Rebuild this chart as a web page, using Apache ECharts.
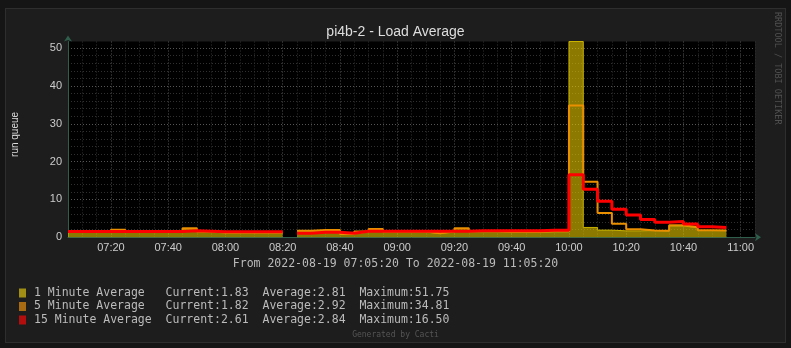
<!DOCTYPE html>
<html>
<head>
<meta charset="utf-8">
<script src="https://cdn.jsdelivr.net/npm/echarts@6/dist/echarts.min.js"></script>
<style>
body { margin: 0; background: #151515; }
#frame { position: absolute; left: 5px; top: 8px; width: 779px; height: 333px; background: #1d1d1d; border: 1px solid #2e2e2e; }
#main { position: absolute; left: 0; top: 0; width: 791px; height: 348px; }
</style>
</head>
<body>
<div id="frame"></div>
<div id="main"></div>
<script>
// 5 minute slots, start time of each slot
var times = ['07:05','07:10','07:15','07:20','07:25','07:30','07:35','07:40','07:45','07:50',
             '07:55','08:00','08:05','08:10','08:15','08:20','08:25','08:30','08:35','08:40',
             '08:45','08:50','08:55','09:00','09:05','09:10','09:15','09:20','09:25','09:30',
             '09:35','09:40','09:45','09:50','09:55','10:00','10:05','10:10','10:15','10:20',
             '10:25','10:30','10:35','10:40','10:45','10:50'];

var load1 = [1.3, 1.3, 1.3, 1.9, 1.3, 1.3, 1.3, 1.3, 2.2, 1.4,
             1.2, 1.2, 1.2, 1.2, 1.2, null, 1.5, 1.7, 1.7, 0.9,
             1.4, 2.0, 1.4, 1.4, 1.4, 1.0, 1.5, 2.3, 1.5, 1.5,
             1.4, 1.4, 1.4, 1.5, 1.5, 51.75, 2.6, 1.9, 1.7, 1.7,
             1.8, 1.7, 3.0, 2.5, 1.8, 1.83];
var load5 = [1.4, 1.4, 1.4, 2.0, 1.4, 1.4, 1.4, 1.4, 2.4, 1.5,
             1.3, 1.3, 1.3, 1.3, 1.3, null, 1.7, 1.9, 1.9, 0.9,
             1.5, 2.2, 1.5, 1.5, 1.5, 1.05, 1.5, 2.4, 1.6, 1.6,
             1.45, 1.45, 1.45, 1.6, 1.6, 34.81, 14.7, 6.4, 3.6, 2.1,
             1.8, 1.7, 3.2, 2.7, 1.85, 1.82];
var load15 = [1.55, 1.55, 1.55, 1.55, 1.55, 1.55, 1.55, 1.55, 1.75, 1.6,
              1.45, 1.45, 1.45, 1.45, 1.45, null, 1.1, 1.35, 1.35, 1.1,
              1.6, 1.6, 1.6, 1.6, 1.6, 1.6, 1.6, 1.6, 1.75, 1.75,
              1.75, 1.75, 1.75, 1.85, 1.85, 16.5, 12.7, 9.5, 7.4, 5.9,
              4.7, 4.0, 4.2, 3.5, 2.8, 2.61];

var seriesNames = ['1 Minute Average', '5 Minute Average', '15 Minute Average'];
var currentVals = ['1.83', '1.82', '2.61'];
var averageVals = ['2.81', '2.92', '2.84'];
var maximumVals = ['51.75', '34.81', '16.50'];

var minorColor = '#303030';
var majorColor = '#555555';
var axisColor = '#2f5e4c';

function toMin(t) {
    var p = t.split(':');
    return parseInt(p[0], 10) * 60 + parseInt(p[1], 10);
}

function fmtMin(v) {
    var h = Math.floor(v / 60), m = v % 60;
    return (h < 10 ? '0' : '') + h + ':' + (m < 10 ? '0' : '') + m;
}

// each slot becomes a flat segment from its start to its end
function slotData(values) {
    var out = [];
    for (var i = 0; i < times.length; i++) {
        var t0 = toMin(times[i]);
        if (values[i] == null) {
            out.push([t0, null]);
        } else {
            out.push([t0, values[i]]);
            out.push([t0 + 5, values[i]]);
        }
    }
    return out;
}

function pad(s, n) {
    while (s.length < n) s += ' ';
    return s;
}

var myChart = echarts.init(document.getElementById('main'));

var option = {
    animation: false,
    title: {
        text: 'pi4b-2 - Load Average',
        left: 'center',
        top: 20,
        textStyle: { color: '#dddddd', fontSize: 14, fontWeight: 'normal', fontFamily: 'Liberation Sans' }
    },
    grid: {
        left: 68, right: 36, top: 41.5, bottom: 110.7,
        containLabel: false,
        outerBoundsMode: 'none',
        show: true, backgroundColor: '#000000', borderWidth: 0
    },
    legend: {
        orient: 'vertical',
        left: 14,
        top: 281.5,
        icon: 'rect',
        itemWidth: 7,
        itemHeight: 9,
        itemGap: 0.5,
        selectedMode: false,
        lineStyle: { opacity: 0 },
        textStyle: { color: '#bbbbbb', fontSize: 11.5, fontFamily: 'DejaVu Sans Mono', lineHeight: 13, padding: [0, 0, 0, 3] },
        formatter: function (name) {
            var i = seriesNames.indexOf(name);
            return pad(name, 19) + pad('Current:' + currentVals[i], 14) +
                pad('Average:' + averageVals[i], 14) + 'Maximum:' + maximumVals[i];
        },
        data: [
            { name: seriesNames[0], itemStyle: { color: '#a08f14' } },
            { name: seriesNames[1], itemStyle: { color: '#a96b12' } },
            { name: seriesNames[2], itemStyle: { color: '#b30e0e' } }
        ]
    },
    xAxis: {
        type: 'value',
        min: 425,
        max: 665,
        interval: 5,
        axisLine: {
            show: true,
            symbol: ['none', 'arrow'],
            symbolSize: [6, 6],
            symbolOffset: [0, 6],
            lineStyle: { color: axisColor }
        },
        axisTick: { show: false },
        axisLabel: {
            color: '#cccccc', fontSize: 11, fontFamily: 'Liberation Sans', margin: 5,
            formatter: function (v) { return v % 20 === 0 ? fmtMin(v) : ''; }
        },
        splitLine: {
            show: true,
            showMinLine: true,
            showMaxLine: true,
            lineStyle: { type: [1, 2], width: 1, color: [minorColor, minorColor, minorColor, majorColor] }
        }
    },
    yAxis: {
        type: 'value',
        min: 0,
        max: 51.75,
        interval: 2,
        name: 'run queue',
        nameLocation: 'middle',
        nameGap: 48,
        nameRotate: 90,
        nameTextStyle: { color: '#dddddd', fontSize: 10, fontFamily: 'Liberation Sans', padding: [0, 0, 0, 10] },
        axisLine: {
            show: true,
            symbol: ['none', 'arrow'],
            symbolSize: [6, 6],
            symbolOffset: [0, 6],
            lineStyle: { color: axisColor }
        },
        axisTick: { show: false },
        axisLabel: {
            color: '#cccccc', fontSize: 11, fontFamily: 'Liberation Sans', margin: 6,
            formatter: function (v) { return v % 10 === 0 ? String(v) : ''; }
        },
        splitLine: {
            show: true,
            showMinLine: true,
            showMaxLine: false,
            lineStyle: { type: [1, 2], width: 1, color: [majorColor, minorColor, minorColor, minorColor, minorColor] }
        }
    },
    series: [
        {
            name: seriesNames[0],
            type: 'line',
            showSymbol: false,
            connectNulls: false,
            data: slotData(load1),
            lineStyle: { color: '#c9b200', width: 1 },
            itemStyle: { color: '#a08f14' },
            areaStyle: { color: 'rgba(234,204,0,0.6)', opacity: 1 },
            z: 2
        },
        {
            name: seriesNames[1],
            type: 'line',
            showSymbol: false,
            connectNulls: false,
            data: slotData(load5),
            lineStyle: { color: '#ea8f00', width: 2 },
            itemStyle: { color: '#a96b12' },
            z: 3
        },
        {
            name: seriesNames[2],
            type: 'line',
            showSymbol: false,
            connectNulls: false,
            data: slotData(load15),
            lineStyle: { color: '#ff0000', width: 3 },
            itemStyle: { color: '#b30e0e' },
            z: 4
        }
    ],
    graphic: [
        {
            type: 'text', left: 'center', top: 258,
            style: { text: 'From 2022-08-19 07:05:20 To 2022-08-19 11:05:20', fill: '#bbbbbb', font: '11.5px "DejaVu Sans Mono"' }
        },
        {
            type: 'text', left: 'center', top: 331,
            style: { text: 'Generated by Cacti', fill: '#555555', font: '8px "DejaVu Sans Mono"' }
        },
        {
            type: 'text', x: 777, y: 12, rotation: -Math.PI / 2,
            style: { text: 'RRDTOOL / TOBI OETIKER', fill: '#505050', font: '8.5px "DejaVu Sans Mono"', verticalAlign: 'middle', align: 'left' }
        }
    ]
};

myChart.setOption(option);
</script>
</body>
</html>
